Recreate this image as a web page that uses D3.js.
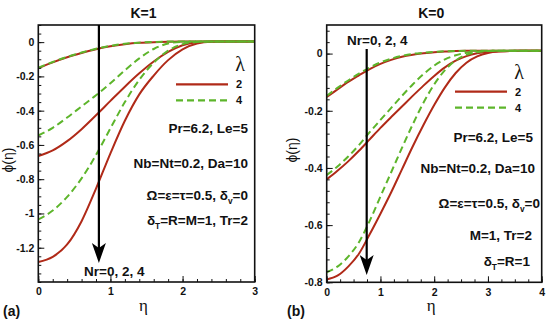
<!DOCTYPE html>
<html>
<head>
<meta charset="utf-8">
<script src="https://cdn.jsdelivr.net/npm/d3@7/dist/d3.min.js"></script>
<style>
  body { margin: 0; background: #fff; }
  svg { display: block; }
</style>
</head>
<body>
<svg id="chart" width="550" height="326"></svg>
<script>
// ---- panel (a) : K=1 ----
const etaA = [0, 0.2, 0.4, 0.6, 0.8, 1.0, 1.2, 1.4, 1.6, 1.8, 2.0, 2.2, 2.4, 2.6, 3.0];
const a_nr0_lam2 = [-0.152, -0.118, -0.088, -0.063, -0.041, -0.024, -0.012, -0.004, 0.0, 0.002, 0.003, 0.003, 0.003, 0.003, 0.003];
const a_nr0_lam4 = [-0.150, -0.116, -0.086, -0.061, -0.039, -0.022, -0.010, -0.003, 0.001, 0.003, 0.003, 0.003, 0.003, 0.003, 0.003];
const a_nr2_lam2 = [-0.665, -0.632, -0.578, -0.508, -0.427, -0.343, -0.26, -0.182, -0.113, -0.057, -0.018, 0.0, 0.003, 0.003, 0.003];
const a_nr2_lam4 = [-0.545, -0.5, -0.44, -0.375, -0.31, -0.24, -0.165, -0.095, -0.04, -0.008, 0.002, 0.003, 0.003, 0.003, 0.003];
const a_nr4_lam2 = [-1.283, -1.253, -1.181, -1.045, -0.855, -0.649, -0.459, -0.305, -0.195, -0.105, -0.042, -0.008, 0.002, 0.003, 0.003];
const a_nr4_lam4 = [-1.035, -0.983, -0.903, -0.795, -0.659, -0.503, -0.35, -0.22, -0.12, -0.05, -0.012, 0.001, 0.003, 0.003, 0.003];
const xTicksA = [0, 1, 2, 3];
const xTickLabelsA = ["0", "1", "2", "3"];
const yTicksA = [0, -0.2, -0.4, -0.6, -0.8, -1, -1.2];
const yTickLabelsA = ["0", "-0.2", "-0.4", "-0.6", "-0.8", "-1", "-1.2"];

// ---- panel (b) : K=0 ----
const etaB = [0, 0.2, 0.4, 0.6, 0.8, 1.0, 1.2, 1.4, 1.6, 1.8, 2.0, 2.2, 2.4, 2.6, 2.8, 3.0, 3.2, 3.6, 4.0];
const b_nr0_lam2 = [-0.152, -0.125, -0.099, -0.076, -0.054, -0.036, -0.022, -0.011, -0.004, 0.001, 0.005, 0.007, 0.009, 0.01, 0.01, 0.01, 0.01, 0.01, 0.01];
const b_nr0_lam4 = [-0.148, -0.12, -0.094, -0.07, -0.049, -0.031, -0.018, -0.008, -0.001, 0.003, 0.006, 0.008, 0.009, 0.01, 0.01, 0.01, 0.01, 0.01, 0.01];
const b_nr2_lam2 = [-0.44, -0.41, -0.377, -0.34, -0.3, -0.26, -0.222, -0.185, -0.148, -0.112, -0.078, -0.048, -0.025, -0.009, 0.001, 0.006, 0.008, 0.01, 0.01];
const b_nr2_lam4 = [-0.425, -0.395, -0.36, -0.32, -0.275, -0.232, -0.19, -0.148, -0.108, -0.072, -0.042, -0.02, -0.006, 0.003, 0.007, 0.009, 0.01, 0.01, 0.01];
const b_nr4_lam2 = [-0.79, -0.777, -0.745, -0.7, -0.632, -0.56, -0.485, -0.405, -0.325, -0.25, -0.18, -0.118, -0.068, -0.032, -0.01, 0.002, 0.007, 0.01, 0.01];
const b_nr4_lam4 = [-0.765, -0.745, -0.71, -0.66, -0.585, -0.5, -0.415, -0.33, -0.248, -0.172, -0.108, -0.058, -0.024, -0.004, 0.005, 0.009, 0.01, 0.01, 0.01];
const xTicksB = [0, 1, 2, 3, 4];
const xTickLabelsB = ["0", "1", "2", "3", "4"];
const yTicksB = [0, -0.2, -0.4, -0.6, -0.8];
const yTickLabelsB = ["0", "-0.2", "-0.4", "-0.6", "-0.8"];

const lambdaLabels = ["2", "4"];
const RED = "#b02a18";
const GREEN = "#5db52b";
const SANS = "'Liberation Sans', Arial, Helvetica, sans-serif";
const NARROW = "'Liberation Sans Narrow', 'Liberation Sans', Arial, sans-serif";
const SERIF = "'Liberation Serif', 'Times New Roman', serif";

const svg = d3.select("#chart");

function addText(g, x, y, parts, opts) {
    let t = g.append("text")
        .attr("x", x).attr("y", y)
        .attr("text-anchor", opts.anchor || "start")
        .attr("font-family", opts.family || SANS)
        .attr("font-size", opts.size)
        .attr("font-weight", opts.weight || "bold")
        .attr("fill", "#111");
    let shift = 0;
    parts.forEach(p => {
        if (typeof p === "string") {
            t.append("tspan").attr("dy", -shift).text(p);
            shift = 0;
        } else {
            // subscript drops down, the next piece comes back up
            shift = 3.5;
            t.append("tspan").attr("dy", shift).attr("font-size", opts.size * 0.62).text(p.sub);
        }
    });
    return t;
}

function drawPanel(p) {
    const x = d3.scaleLinear().domain(p.xDomain).range([p.left, p.right]);
    const y = d3.scaleLinear().domain(p.yDomain).range([p.bottom, p.top]);
    const g = svg.append("g");

    g.append("clipPath").attr("id", p.id + "-clip")
        .append("rect")
        .attr("x", p.left).attr("y", p.top)
        .attr("width", p.right - p.left).attr("height", p.bottom - p.top);

    const line = d3.line()
        .x(d => x(d[0]))
        .y(d => y(d[1]))
        .curve(d3.curveMonotoneX);

    const curves = g.append("g").attr("clip-path", "url(#" + p.id + "-clip)");
    p.series.forEach(s => {
        curves.append("path")
            .datum(p.eta.map((e, i) => [e, s.values[i]]))
            .attr("d", line)
            .attr("fill", "none")
            .attr("stroke", s.lam === 2 ? RED : GREEN)
            .attr("stroke-width", 2)
            .attr("stroke-dasharray", s.lam === 2 ? null : "7,4");
    });

    // minor ticks
    const xStep = p.xMinor, yStep = p.yMinor;
    const xMinorVals = d3.range(p.xDomain[0], p.xDomain[1] + 1e-9, xStep);
    const yMinorVals = d3.range(Math.ceil(p.yDomain[0] / yStep - 1e-9) * yStep, p.yDomain[1] + 1e-9, yStep);

    g.append("g").attr("transform", "translate(0," + p.bottom + ")")
        .call(d3.axisBottom(x).tickValues(xMinorVals).tickSize(-3).tickFormat(""))
        .call(a => a.select(".domain").remove());
    g.append("g").attr("transform", "translate(" + p.left + ",0)")
        .call(d3.axisLeft(y).tickValues(yMinorVals).tickSize(-3).tickFormat(""))
        .call(a => a.select(".domain").remove());

    // major ticks
    const xAxis = g.append("g").attr("transform", "translate(0," + p.bottom + ")")
        .call(d3.axisBottom(x).tickValues(p.xTicks).tickSize(-6).tickPadding(6)
            .tickFormat((d, i) => p.xLabels[i]));
    const yAxis = g.append("g").attr("transform", "translate(" + p.left + ",0)")
        .call(d3.axisLeft(y).tickValues(p.yTicks).tickSize(-6).tickPadding(4)
            .tickFormat((d, i) => p.yLabels[i]));
    [xAxis, yAxis].forEach(a => {
        a.select(".domain").remove();
        a.selectAll("text").attr("font-family", NARROW).attr("font-size", 10.5)
            .attr("font-weight", "bold").attr("fill", "#111");
    });
    g.selectAll(".tick line").attr("stroke", "#111").attr("stroke-width", 1);

    // frame
    g.append("rect")
        .attr("x", p.left).attr("y", p.top)
        .attr("width", p.right - p.left).attr("height", p.bottom - p.top)
        .attr("fill", "none").attr("stroke", "#111").attr("stroke-width", 1.6);

    // arrow
    const ax = x(p.arrowEta);
    g.append("line")
        .attr("x1", ax).attr("x2", ax)
        .attr("y1", p.arrowTop).attr("y2", p.arrowTip - 12)
        .attr("stroke", "#000").attr("stroke-width", 2.2);
    g.append("path")
        .attr("d", "M" + (ax - 7) + "," + (p.arrowTip - 20) + "L" + ax + "," + p.arrowTip +
            "L" + (ax + 7) + "," + (p.arrowTip - 20) + "L" + ax + "," + (p.arrowTip - 15) + "Z")
        .attr("fill", "#000");

    // legend
    addText(g, p.legX + 64, p.legY - 13, ["\u03bb"], { size: 20, weight: "normal", family: SERIF, anchor: "middle" });
    [2, 4].forEach((lam, i) => {
        const ly = p.legY + i * 16;
        g.append("line")
            .attr("x1", p.legX).attr("x2", p.legX + 52)
            .attr("y1", ly).attr("y2", ly)
            .attr("stroke", lam === 2 ? RED : GREEN)
            .attr("stroke-width", 2.2)
            .attr("stroke-dasharray", lam === 2 ? null : "7,4");
        addText(g, p.legX + 60, ly + 4, [lambdaLabels[i]], { size: 11 });
    });

    // notes
    p.notes.forEach(n => addText(g, n.x, n.y, n.parts, { size: 13.5, anchor: n.anchor || "end" }));

    // titles and axis labels
    addText(g, (p.left + p.right) / 2 - 3, 18, [p.title], { size: 14, anchor: "middle" });
    addText(g, (p.left + p.right) / 2 - 3, 311, ["\u03b7"], { size: 17, weight: "normal", family: SERIF, anchor: "middle" });
    addText(g, p.panelX, 316, [p.panelLabel], { size: 14 });
    addText(g, 0, 0, ["\u03d5(\u03b7)"], { size: 14, weight: "normal", anchor: "middle" })
        .attr("transform", "translate(" + p.yLabelX + "," + p.yLabelY + ") rotate(-90)");
}

drawPanel({
    id: "pa", title: "K=1", panelLabel: "(a)", panelX: 3,
    left: 38.3, right: 254.7, top: 25, bottom: 282,
    xDomain: [0, 3], yDomain: [-1.4, 0.1], xMinor: 0.2, yMinor: 0.05,
    xTicks: xTicksA, xLabels: xTickLabelsA, yTicks: yTicksA, yLabels: yTickLabelsA,
    eta: etaA,
    series: [
        { lam: 2, values: a_nr0_lam2 }, { lam: 2, values: a_nr2_lam2 }, { lam: 2, values: a_nr4_lam2 },
        { lam: 4, values: a_nr0_lam4 }, { lam: 4, values: a_nr2_lam4 }, { lam: 4, values: a_nr4_lam4 }
    ],
    arrowEta: 0.84, arrowTop: 25, arrowTip: 263,
    legX: 176, legY: 84.3,
    yLabelX: 13, yLabelY: 160,
    notes: [
        { x: 248, y: 133, parts: ["Pr=6.2, Le=5"] },
        { x: 248, y: 168, parts: ["Nb=Nt=0.2, Da=10"] },
        { x: 248, y: 200, parts: ["\u03a9=\u03b5=\u03c4=0.5, \u03b4", { sub: "v" }, "=0"] },
        { x: 248, y: 225, parts: ["\u03b4", { sub: "T" }, "=R=M=1, Tr=2"] },
        { x: 84, y: 276, parts: ["Nr=0, 2, 4"], anchor: "start" }
    ]
});

drawPanel({
    id: "pb", title: "K=0", panelLabel: "(b)", panelX: 287,
    left: 326.7, right: 541.7, top: 25, bottom: 282.3,
    xDomain: [0, 4], yDomain: [-0.8, 0.1], xMinor: 0.25, yMinor: 0.04,
    xTicks: xTicksB, xLabels: xTickLabelsB, yTicks: yTicksB, yLabels: yTickLabelsB,
    eta: etaB,
    series: [
        { lam: 2, values: b_nr0_lam2 }, { lam: 2, values: b_nr2_lam2 }, { lam: 2, values: b_nr4_lam2 },
        { lam: 4, values: b_nr0_lam4 }, { lam: 4, values: b_nr2_lam4 }, { lam: 4, values: b_nr4_lam4 }
    ],
    arrowEta: 0.744, arrowTop: 49, arrowTip: 275,
    legX: 455, legY: 91.7,
    yLabelX: 297, yLabelY: 150,
    notes: [
        { x: 533, y: 141.5, parts: ["Pr=6.2, Le=5"] },
        { x: 535, y: 173, parts: ["Nb=Nt=0.2, Da=10"] },
        { x: 540, y: 208, parts: ["\u03a9=\u03b5=\u03c4=0.5, \u03b4", { sub: "v" }, "=0"] },
        { x: 532, y: 240, parts: ["M=1, Tr=2"] },
        { x: 530, y: 266, parts: ["\u03b4", { sub: "T" }, "=R=1"] },
        { x: 347, y: 45, parts: ["Nr=0, 2, 4"], anchor: "start" }
    ]
});
</script>
</body>
</html>
